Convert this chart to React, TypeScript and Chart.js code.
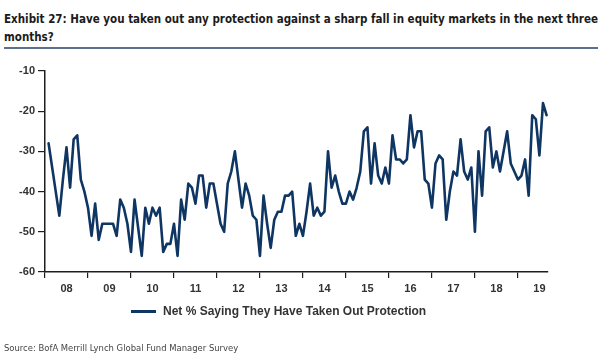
import React, { useEffect, useRef } from "react";
import { Chart, registerables } from "chart.js";

Chart.register(...registerables);

// Monthly survey readings, Feb 2008 .. Sep 2019
const startYear = 2008;
const startMonth = 1; // Feb (0-based month offset from Jan)
const netProtection: number[] = [
  -28, -34, -40, -46, -37, -29, -39, -27, -26, -37,
  -40, -44, -51, -43, -52, -48, -48, -48, -48, -51,
  -42, -44, -48, -55, -42, -49, -56, -44, -48, -44,
  -46, -44, -55, -53, -53, -48, -56, -42, -47, -38,
  -39, -43, -36, -36, -44, -38, -38, -43, -48, -50,
  -38, -35, -30, -37, -44, -38, -41, -46, -47, -56,
  -41, -48, -54, -47, -45, -45, -41, -41, -40, -51,
  -48, -51, -45, -38, -46, -44, -46, -45, -30, -39,
  -36, -40, -43, -43, -40, -42, -39, -35, -25, -24,
  -38, -28, -36, -38, -34, -38, -26, -32, -32, -33,
  -32, -21, -29, -25, -25, -37, -38, -44, -33, -31,
  -32, -47, -40, -35, -36, -27, -35, -37, -34, -50,
  -30, -41, -25, -24, -34, -30, -35, -30, -25, -33,
  -35, -37, -36, -32, -41, -21, -22, -31, -18, -21,
];
const yearTicks: number[] = [2008, 2009, 2010, 2011, 2012, 2013, 2014, 2015, 2016, 2017, 2018, 2019];
const yMin = -60;
const yMax = -10;
const xMax = 2019.7;

const titleLine1 =
  "Exhibit 27: Have you taken out any protection against a sharp fall in equity markets in the next three";
const titleLine2 = "months?";
const legendLabel = "Net % Saying They Have Taken Out Protection";
const sourceText = "Source:  BofA Merrill Lynch Global Fund Manager Survey";

const LINE_COLOR = "#0f3563";
const AXIS_COLOR = "#1e1e1e";

export default function App() {
  const canvasRef = useRef<HTMLCanvasElement | null>(null);

  useEffect(() => {
    if (!canvasRef.current) return;
    const points = netProtection.map((v, i) => ({
      x: startYear + (startMonth + i) / 12,
      y: v,
    }));
    const chart = new Chart(canvasRef.current, {
      type: "line",
      data: {
        datasets: [
          {
            label: legendLabel,
            data: points,
            borderColor: LINE_COLOR,
            backgroundColor: LINE_COLOR,
            borderWidth: 2.6,
            pointRadius: 0,
            tension: 0,
            borderJoinStyle: "round",
            borderCapStyle: "round",
          },
        ],
      },
      options: {
        responsive: false,
        animation: false,
        events: [],
        layout: { padding: { left: 0, right: 64, top: 71, bottom: 56 } },
        plugins: {
          legend: { display: false },
          tooltip: { enabled: false },
          title: { display: false },
        },
        scales: {
          x: {
            type: "linear",
            min: startYear,
            max: xMax,
            afterBuildTicks: (scale: any) => {
              scale.ticks = yearTicks.map((v) => ({ value: v }));
            },
            afterFit: (scale: any) => {
              scale.height = 30;
            },
            grid: {
              display: true,
              drawOnChartArea: false,
              drawTicks: true,
              tickLength: 6,
              color: AXIS_COLOR,
              lineWidth: 1.2,
            },
            border: { display: true, color: AXIS_COLOR, width: 1.5 },
            ticks: {
              autoSkip: false,
              maxRotation: 0,
              labelOffset: 21.5,
              padding: 4,
              color: "#333",
              font: { family: "'Liberation Sans', Arial, sans-serif", size: 11, weight: "bold" },
              callback: (v: any) => String(Math.round(Number(v)) % 100).padStart(2, "0"),
            },
          },
          y: {
            min: yMin,
            max: yMax,
            afterFit: (scale: any) => {
              scale.width = 45;
            },
            grid: {
              display: true,
              drawOnChartArea: false,
              drawTicks: true,
              tickLength: 7,
              color: AXIS_COLOR,
              lineWidth: 1.2,
            },
            border: { display: true, color: AXIS_COLOR, width: 1.5 },
            ticks: {
              stepSize: 10,
              padding: 3,
              color: "#333",
              font: { family: "'Liberation Sans', Arial, sans-serif", size: 11, weight: "bold" },
            },
          },
        },
      },
    });
    return () => chart.destroy();
  }, []);

  return (
    <div
      style={{
        position: "fixed",
        left: 0,
        top: 0,
        width: 612,
        height: 358,
        background: "#fff",
        overflow: "hidden",
      }}
    >
      <div
        style={{
          position: "absolute",
          left: 4,
          top: 10,
          fontFamily: "'DejaVu Sans Condensed', 'Liberation Sans Narrow', sans-serif",
          fontWeight: "bold",
          fontSize: 13,
          lineHeight: "18px",
          color: "#1b1b1b",
          whiteSpace: "nowrap",
          transform: "scaleX(0.885)",
          transformOrigin: "left top",
        }}
      >
        {titleLine1}
        <br />
        {titleLine2}
      </div>
      <div
        style={{
          position: "absolute",
          left: 4,
          top: 47,
          width: 594,
          height: 2,
          background: "#5c6f8d",
        }}
      />
      <canvas
        ref={canvasRef}
        width={612}
        height={358}
        style={{ position: "absolute", left: 0, top: 0, width: 612, height: 358 }}
      />
      <div
        style={{
          position: "absolute",
          left: 131,
          top: 304,
          display: "flex",
          alignItems: "center",
          fontFamily: "'Liberation Sans', Arial, sans-serif",
          fontWeight: "bold",
          fontSize: 12,
          color: "#333",
          whiteSpace: "nowrap",
        }}
      >
        <span
          style={{
            display: "inline-block",
            width: 25,
            height: 3,
            background: LINE_COLOR,
            marginRight: 7,
          }}
        />
        <span>{legendLabel}</span>
      </div>
      <div
        style={{
          position: "absolute",
          left: 4,
          top: 342,
          fontFamily: "'DejaVu Sans Condensed', 'Liberation Sans Narrow', sans-serif",
          fontSize: 9.4,
          color: "#444",
          whiteSpace: "nowrap",
        }}
      >
        {sourceText}
      </div>
    </div>
  );
}
